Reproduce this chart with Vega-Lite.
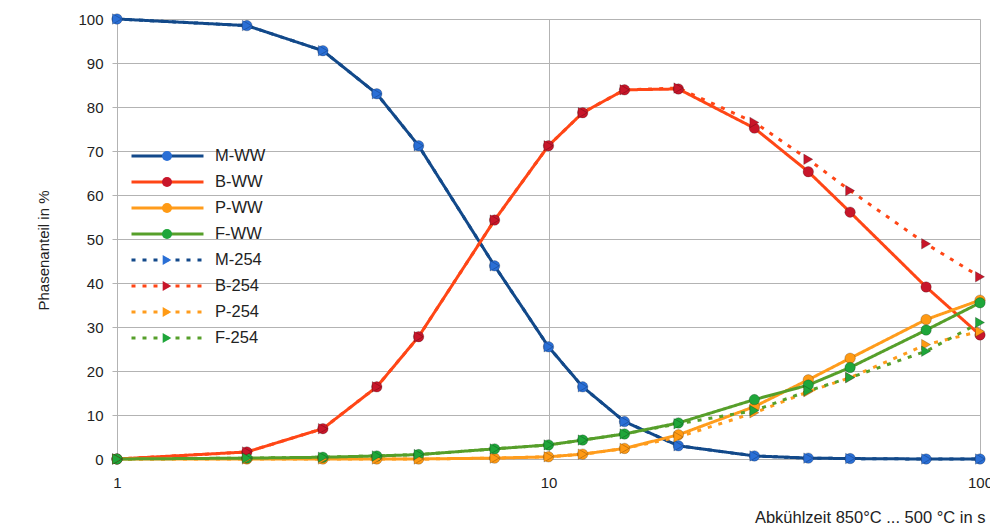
{
  "$schema": "https://vega.github.io/schema/vega-lite/v6.json",
  "width": 863,
  "height": 440,
  "autosize": {"type": "none"},
  "padding": {"left": 117, "top": 19, "right": 10, "bottom": 67},
  "background": "white",
  "config": {
    "font": "Liberation Sans",
    "view": {"stroke": null},
    "axis": {"gridColor": "#b3b3b3", "gridWidth": 1, "domain": false, "labelFont": "Liberation Sans", "labelFontSize": 15, "labelColor": "#222222", "titleFont": "Liberation Sans", "titleFontWeight": "normal", "titleColor": "#222222"}
  },
  "datasets": {
    "phases": [
      {"t": 1, "series": "M-WW", "v": 100}, {"t": 2, "series": "M-WW", "v": 98.5}, {"t": 3, "series": "M-WW", "v": 92.8}, {"t": 4, "series": "M-WW", "v": 83}, {"t": 5, "series": "M-WW", "v": 71.2}, {"t": 7.5, "series": "M-WW", "v": 43.9}, {"t": 10, "series": "M-WW", "v": 25.5}, {"t": 12, "series": "M-WW", "v": 16.4}, {"t": 15, "series": "M-WW", "v": 8.5}, {"t": 20, "series": "M-WW", "v": 3}, {"t": 30, "series": "M-WW", "v": 0.7}, {"t": 40, "series": "M-WW", "v": 0.2}, {"t": 50, "series": "M-WW", "v": 0.1}, {"t": 75, "series": "M-WW", "v": 0}, {"t": 100, "series": "M-WW", "v": 0},
      {"t": 1, "series": "B-WW", "v": 0}, {"t": 2, "series": "B-WW", "v": 1.6}, {"t": 3, "series": "B-WW", "v": 6.9}, {"t": 4, "series": "B-WW", "v": 16.4}, {"t": 5, "series": "B-WW", "v": 27.8}, {"t": 7.5, "series": "B-WW", "v": 54.3}, {"t": 10, "series": "B-WW", "v": 71.2}, {"t": 12, "series": "B-WW", "v": 78.7}, {"t": 15, "series": "B-WW", "v": 83.9}, {"t": 20, "series": "B-WW", "v": 84.1}, {"t": 30, "series": "B-WW", "v": 75.2}, {"t": 40, "series": "B-WW", "v": 65.3}, {"t": 50, "series": "B-WW", "v": 56.1}, {"t": 75, "series": "B-WW", "v": 39.1}, {"t": 100, "series": "B-WW", "v": 28.2},
      {"t": 1, "series": "P-WW", "v": 0}, {"t": 2, "series": "P-WW", "v": 0}, {"t": 3, "series": "P-WW", "v": 0}, {"t": 4, "series": "P-WW", "v": 0}, {"t": 5, "series": "P-WW", "v": 0}, {"t": 7.5, "series": "P-WW", "v": 0.2}, {"t": 10, "series": "P-WW", "v": 0.5}, {"t": 12, "series": "P-WW", "v": 1.1}, {"t": 15, "series": "P-WW", "v": 2.4}, {"t": 20, "series": "P-WW", "v": 5.5}, {"t": 30, "series": "P-WW", "v": 11.9}, {"t": 40, "series": "P-WW", "v": 18}, {"t": 50, "series": "P-WW", "v": 22.9}, {"t": 75, "series": "P-WW", "v": 31.7}, {"t": 100, "series": "P-WW", "v": 36.1},
      {"t": 1, "series": "F-WW", "v": 0}, {"t": 2, "series": "F-WW", "v": 0.2}, {"t": 3, "series": "F-WW", "v": 0.4}, {"t": 4, "series": "F-WW", "v": 0.7}, {"t": 5, "series": "F-WW", "v": 1}, {"t": 7.5, "series": "F-WW", "v": 2.3}, {"t": 10, "series": "F-WW", "v": 3.2}, {"t": 12, "series": "F-WW", "v": 4.3}, {"t": 15, "series": "F-WW", "v": 5.7}, {"t": 20, "series": "F-WW", "v": 8.2}, {"t": 30, "series": "F-WW", "v": 13.5}, {"t": 40, "series": "F-WW", "v": 16.8}, {"t": 50, "series": "F-WW", "v": 20.8}, {"t": 75, "series": "F-WW", "v": 29.3}, {"t": 100, "series": "F-WW", "v": 35.5},
      {"t": 1, "series": "M-254", "v": 100}, {"t": 2, "series": "M-254", "v": 98.5}, {"t": 3, "series": "M-254", "v": 92.8}, {"t": 4, "series": "M-254", "v": 83}, {"t": 5, "series": "M-254", "v": 71.2}, {"t": 7.5, "series": "M-254", "v": 43.9}, {"t": 10, "series": "M-254", "v": 25.5}, {"t": 12, "series": "M-254", "v": 16.4}, {"t": 15, "series": "M-254", "v": 8.5}, {"t": 20, "series": "M-254", "v": 3}, {"t": 30, "series": "M-254", "v": 0.7}, {"t": 40, "series": "M-254", "v": 0.2}, {"t": 50, "series": "M-254", "v": 0.1}, {"t": 75, "series": "M-254", "v": 0}, {"t": 100, "series": "M-254", "v": 0},
      {"t": 1, "series": "B-254", "v": 0}, {"t": 2, "series": "B-254", "v": 1.6}, {"t": 3, "series": "B-254", "v": 6.9}, {"t": 4, "series": "B-254", "v": 16.4}, {"t": 5, "series": "B-254", "v": 27.8}, {"t": 7.5, "series": "B-254", "v": 54.3}, {"t": 10, "series": "B-254", "v": 71.2}, {"t": 12, "series": "B-254", "v": 78.7}, {"t": 15, "series": "B-254", "v": 83.9}, {"t": 20, "series": "B-254", "v": 84.3}, {"t": 30, "series": "B-254", "v": 76.5}, {"t": 40, "series": "B-254", "v": 68.1}, {"t": 50, "series": "B-254", "v": 61}, {"t": 75, "series": "B-254", "v": 48.9}, {"t": 100, "series": "B-254", "v": 41.4},
      {"t": 1, "series": "P-254", "v": 0}, {"t": 2, "series": "P-254", "v": 0}, {"t": 3, "series": "P-254", "v": 0}, {"t": 4, "series": "P-254", "v": 0}, {"t": 5, "series": "P-254", "v": 0}, {"t": 7.5, "series": "P-254", "v": 0.2}, {"t": 10, "series": "P-254", "v": 0.5}, {"t": 12, "series": "P-254", "v": 1.1}, {"t": 15, "series": "P-254", "v": 2.4}, {"t": 20, "series": "P-254", "v": 5}, {"t": 30, "series": "P-254", "v": 10.5}, {"t": 40, "series": "P-254", "v": 15.3}, {"t": 50, "series": "P-254", "v": 18.5}, {"t": 75, "series": "P-254", "v": 26}, {"t": 100, "series": "P-254", "v": 29},
      {"t": 1, "series": "F-254", "v": 0}, {"t": 2, "series": "F-254", "v": 0.2}, {"t": 3, "series": "F-254", "v": 0.4}, {"t": 4, "series": "F-254", "v": 0.7}, {"t": 5, "series": "F-254", "v": 1}, {"t": 7.5, "series": "F-254", "v": 2.3}, {"t": 10, "series": "F-254", "v": 3.2}, {"t": 12, "series": "F-254", "v": 4.3}, {"t": 15, "series": "F-254", "v": 5.7}, {"t": 20, "series": "F-254", "v": 8}, {"t": 30, "series": "F-254", "v": 11}, {"t": 40, "series": "F-254", "v": 15.5}, {"t": 50, "series": "F-254", "v": 18.5}, {"t": 75, "series": "F-254", "v": 24.5}, {"t": 100, "series": "F-254", "v": 31}
    ]
  },
  "data": {"name": "phases"},
  "encoding": {
    "x": {"field": "t", "type": "quantitative", "scale": {"type": "log", "domain": [1, 100], "nice": false},
      "axis": {"values": [1, 10, 100], "grid": true, "ticks": false, "labelPadding": 16, "title": "Abkühlzeit 850°C ... 500 °C in s", "titleFontSize": 16.5, "titleAnchor": "end", "titleAlign": "right", "titleX": 868, "titlePadding": 19, "labelFlush": false}},
    "y": {"field": "v", "type": "quantitative", "scale": {"domain": [0, 100], "nice": false},
      "axis": {"values": [0, 10, 20, 30, 40, 50, 60, 70, 80, 90, 100], "grid": true, "ticks": true, "tickSize": 5, "tickColor": "#b3b3b3", "labelPadding": 9, "title": "Phasenanteil in %", "titleFontSize": 15, "titleY": 231, "titlePadding": 26}}
  },
  "layer": [
    {
      "mark": {"type": "line", "strokeWidth": 3, "strokeCap": "butt"},
      "encoding": {
        "stroke": {"field": "series", "type": "nominal",
          "scale": {"domain": ["M-WW", "B-WW", "P-WW", "F-WW", "M-254", "B-254", "P-254", "F-254"],
            "range": ["#12498a", "#ff4616", "#ff9c1c", "#569f2a", "#12498a", "#ff4616", "#ff9c1c", "#569f2a"]},
          "legend": {"orient": "none", "legendX": 13, "legendY": 124, "title": null, "padding": 0, "symbolType": "stroke", "symbolSize": 5184, "symbolStrokeWidth": 3, "clipHeight": 26, "rowPadding": 0, "labelOffset": 10, "labelFontSize": 16.5, "labelFont": "Liberation Sans", "labelColor": "#222222"}},
        "strokeDash": {"field": "series", "type": "nominal",
          "scale": {"domain": ["M-WW", "B-WW", "P-WW", "F-WW", "M-254", "B-254", "P-254", "F-254"],
            "range": [[1, 0], [1, 0], [1, 0], [1, 0], [4, 7], [4, 7], [4, 7], [4, 7]]},
          "legend": {"orient": "none", "legendX": 13, "legendY": 124, "title": null}}
      }
    },
    {
      "mark": {"type": "point", "filled": true, "size": 110, "opacity": 1, "stroke": "#000000", "strokeWidth": 0.6, "strokeOpacity": 0.35},
      "encoding": {
        "fill": {"field": "series", "type": "nominal",
          "scale": {"domain": ["F-254", "P-254", "B-254", "M-254", "F-WW", "P-WW", "B-WW", "M-WW"],
            "range": ["#1fa63a", "#ff9a14", "#c8162a", "#2a6fd6", "#1fa63a", "#ff9a14", "#c8162a", "#2a6fd6"]},
          "legend": {"orient": "none", "legendX": 45, "legendY": 124, "title": null, "padding": 0, "values": ["M-WW", "B-WW", "P-WW", "F-WW", "M-254", "B-254", "P-254", "F-254"], "clipHeight": 26, "rowPadding": 0, "labelOpacity": 0, "symbolSize": 100, "symbolOpacity": 1, "symbolStrokeWidth": 0}},
        "shape": {"field": "series", "type": "nominal",
          "scale": {"domain": ["F-254", "P-254", "B-254", "M-254", "F-WW", "P-WW", "B-WW", "M-WW"],
            "range": ["triangle-right", "triangle-right", "triangle-right", "triangle-right", "circle", "circle", "circle", "circle"]},
          "legend": {"orient": "none", "legendX": 45, "legendY": 124, "title": null, "values": ["M-WW", "B-WW", "P-WW", "F-WW", "M-254", "B-254", "P-254", "F-254"]}}
      }
    }
  ]
}
